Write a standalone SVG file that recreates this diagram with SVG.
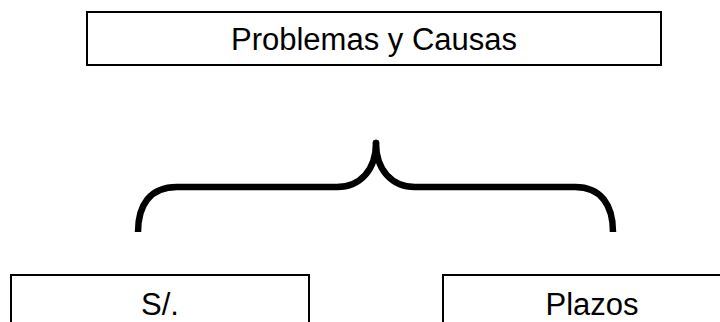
<svg xmlns="http://www.w3.org/2000/svg" width="720" height="322" viewBox="0 0 720 322">
<style>
.box{fill:#fff;stroke:#000;stroke-width:2}
.t{font-family:"Liberation Sans",Arial,sans-serif;font-size:31px;fill:#000;text-anchor:middle}
.br{fill:none;stroke:#000;stroke-width:6.5;stroke-linejoin:round}
</style>
<rect width="720" height="322" fill="#fff"/>
<g id="top">
<rect class="box" x="87" y="12" width="574" height="53"/>
<text class="t" x="374" y="50">Problemas y Causas</text>
</g>
<g id="connectors">
<path class="br" d="M138,232 C138,205 150,187 177,187 L337,187 C360,187 376,170 376,143 C376,170 392,187 415,187 L575,187 C601,187 613,205 613,232"/>
<circle cx="376" cy="143" r="3.25" fill="#000"/>
</g>
<g id="left">
<rect class="box" x="11" y="275" width="298" height="60"/>
<text class="t" x="160" y="315">S/.</text>
</g>
<g id="right">
<rect class="box" x="443" y="275" width="298" height="60"/>
<text class="t" x="592" y="315">Plazos</text>
</g>
</svg>
